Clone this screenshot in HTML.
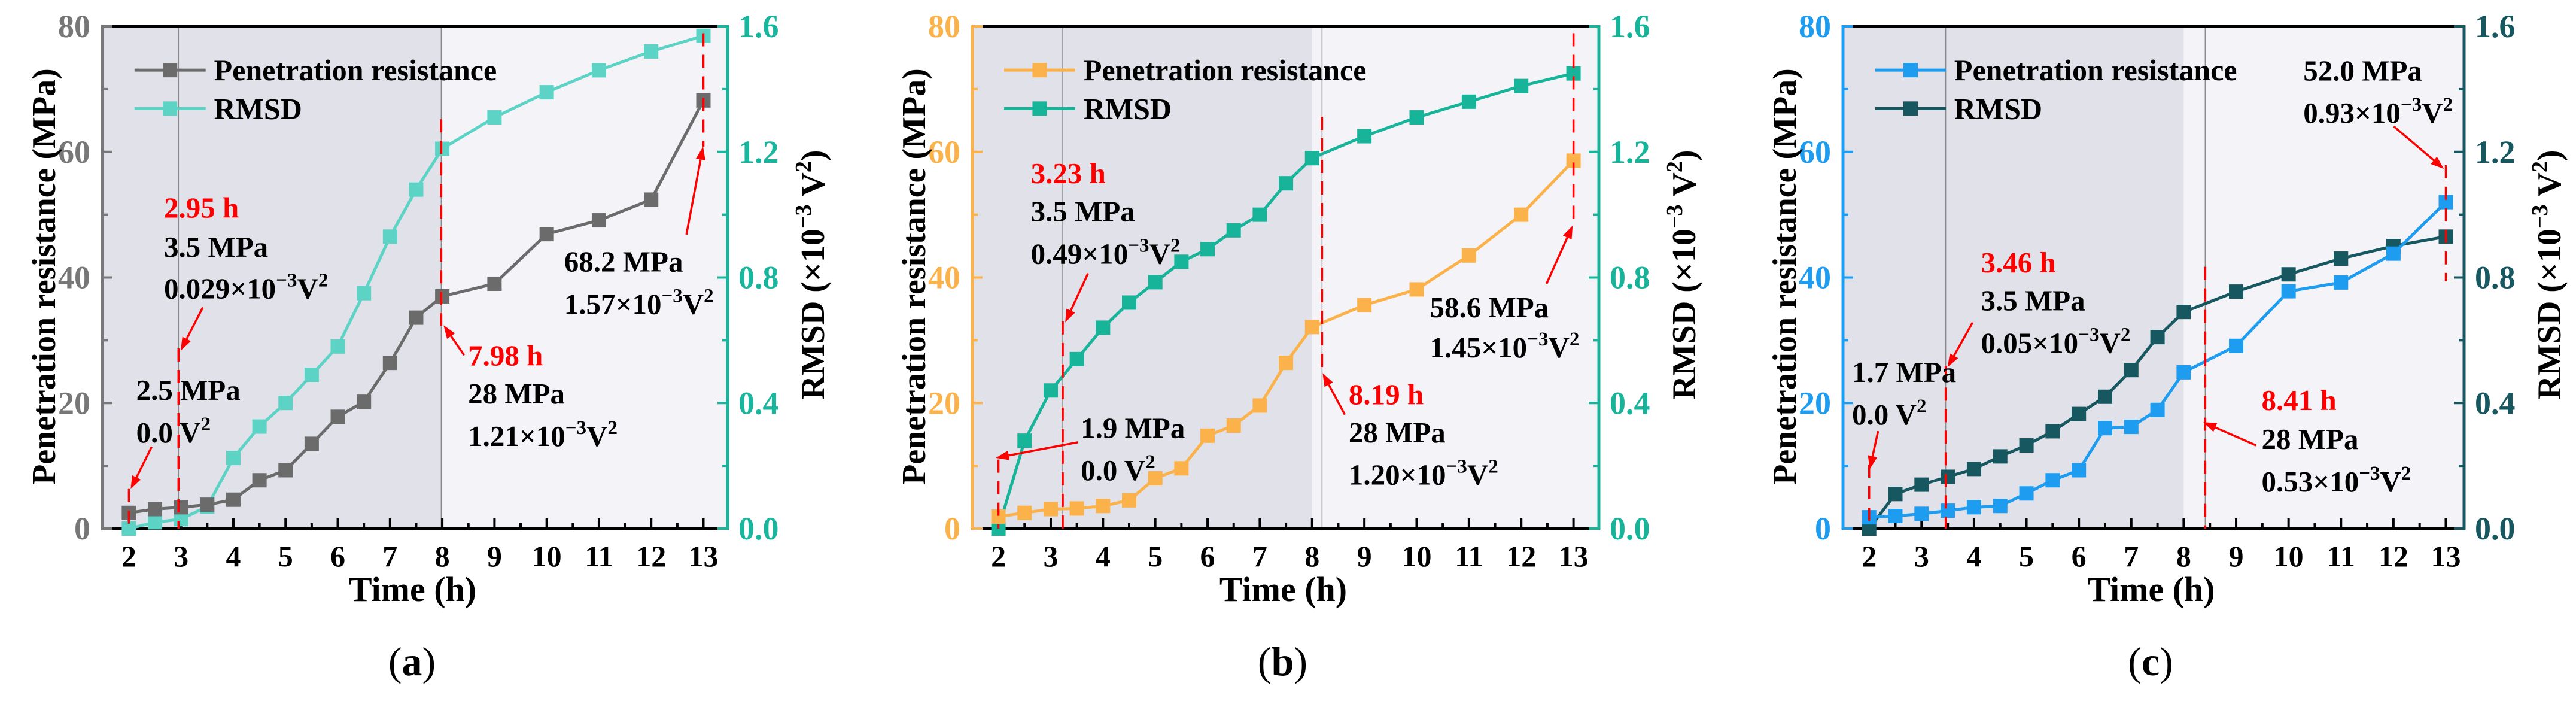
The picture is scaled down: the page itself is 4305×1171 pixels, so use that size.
<!DOCTYPE html>
<html><head><meta charset="utf-8"><style>
html,body{margin:0;padding:0;background:#fff;}
svg{display:block;font-family:"Liberation Serif","Times New Roman",serif;}
svg text{font-family:"Liberation Serif","Times New Roman",serif;}
</style></head>
<body>
<svg id="chart" width="4305" height="1171" viewBox="0 0 4305 1171" xmlns="http://www.w3.org/2000/svg" font-family="Liberation Serif, Times New Roman, serif"></svg>
<script>
const times=[2,2.5,3,3.5,4,4.5,5,5.5,6,6.5,7,7.5,8,9,10,11,12,13];
const xTicks=[2,3,4,5,6,7,8,9,10,11,12,13];
const leftTicks=[0,20,40,60,80];
const rightTickLabels=["0.0","0.4","0.8","1.2","1.6"];
const penA=[2.5,3.1,3.4,3.8,4.6,7.7,9.3,13.5,17.8,20.2,26.4,33.6,37,39,46.9,49.1,52.4,68.2];
const rmsdA=[0.0,0.02,0.03,0.07,0.225,0.325,0.40,0.49,0.58,0.75,0.93,1.08,1.21,1.31,1.39,1.46,1.52,1.57];
const penB=[1.9,2.5,3.1,3.2,3.6,4.5,8.0,9.6,14.8,16.4,19.6,26.4,32.1,35.6,38.1,43.5,50,58.6];
const rmsdB=[0.0,0.28,0.44,0.54,0.64,0.72,0.785,0.85,0.89,0.95,1.0,1.10,1.18,1.25,1.31,1.36,1.41,1.45];
const penC=[1.8,2.0,2.35,2.85,3.4,3.6,5.6,7.7,9.3,16.0,16.2,18.9,24.9,29.1,37.8,39.2,43.8,52.0];
const rmsdC=[0.0,0.11,0.14,0.165,0.19,0.23,0.265,0.31,0.365,0.42,0.505,0.61,0.69,0.755,0.81,0.86,0.90,0.93];

const NS="http://www.w3.org/2000/svg";
const svg=document.getElementById('chart');
const TOP=44, BOT=883, VX=1.0766, VY=1.34;
function el(tag,attrs,parent){const e=document.createElementNS(NS,tag);for(const k in attrs)e.setAttribute(k,attrs[k]);(parent||svg).appendChild(e);return e;}

const panels=[
 {id:'a',off:0,left:171,right:1216,x2:215.4,x13:1175.5,penColor:'#6b6b6b',axisColor:'#777777',rmsdColor:'#5dd3c6',rAxis:'#19b59c',rTick:'#19b59c',pen:penA,rmsd:rmsdA,
  grey:[2.95,7.98],dash:[[2,6.3,0],[2.95,28.7,0],[7.98,65.2,32.3],[13,78.9,60.8]],
  arrows:[[273,1000,235,1095],[365,688,325,785],[835,795,798,728],[1235,525,1265,328]],
  legX:[242,370,385],
  notes:[['2.95 h',295,487,1],['3.5 MPa',295,575],['0.029×10|−3|V|2',295,668],['2.5 MPa',245,895],['0.0 V|2',245,990],
   ['7.98 h',842,818,1],['28 MPa',842,903],['1.21×10|−3|V|2',842,998],['68.2 MPa',1015,608],['1.57×10|−3|V|2',1015,703]]},
 {id:'b',off:1430,left:1625,right:2672,x2:1668.6,x13:2629.6,penColor:'#fbb24a',axisColor:'#fbb24a',rmsdColor:'#17b49a',rAxis:'#17b49a',rTick:'#17b49a',pen:penB,rmsd:rmsdB,
  grey:[3.23,8.19],dash:[[2,11.0,0],[3.23,33.0,0],[8.19,65.6,25.1],[13,78.9,48.3]],
  arrows:[[400,990,252,1025],[418,612,377,722],[880,928,840,835],[1243,635,1290,505]],
  legX:[267,395,410],
  notes:[['3.23 h',315,410,1],['3.5 MPa',315,495],['0.49×10|−3|V|2',315,590],['1.9 MPa',405,980],['0.0 V|2',405,1075],
   ['8.19 h',887,905,1],['28 MPa',887,990],['1.20×10|−3|V|2',887,1085],['58.6 MPa',1033,710],['1.45×10|−3|V|2',1033,800]]},
 {id:'c',off:2860,left:3080,right:4118,x2:3123.7,x13:4087.5,penColor:'#1e9cf0',axisColor:'#1e9cf0',rmsdColor:'#17575f',rAxis:'#17575f',rTick:'#17575f',pen:penC,rmsd:rmsdC,
  grey:[3.46,8.41],dash:[[2,10.2,0],[3.46,25.9,0],[8.41,41.7,0],[13,57.9,39.4]],
  arrows:[[300,965,285,1050],[470,722,425,822],[980,997,885,945],[1228,283,1318,378]],
  legX:[295,422,437],
  notes:[['3.46 h',485,610,1],['3.5 MPa',485,695],['0.05×10|−3|V|2',485,790],['1.7 MPa',253,855],['0.0 V|2',253,950],
   ['8.41 h',990,918,1],['28 MPa',990,1005],['0.53×10|−3|V|2',990,1100],['52.0 MPa',1065,180],['0.93×10|−3|V|2',1065,275]]}
];

panels.forEach(p=>{
  const g=el('g',{});
  
  
  const X=t=>p.x2+(t-2)*(p.x13-p.x2)/11;
  const YL=v=>BOT-v*(BOT-TOP)/80;
  const YR=v=>BOT-v*(BOT-TOP)/1.6;
  const ZX=z=>p.off+z/VX, ZY=z=>z/VY;
  const x8=X(8);
  const bgD=el('rect',{x:p.left,y:TOP,width:x8-p.left,height:BOT-TOP,fill:'#e1e1ea'},g);
  
  const bgL=el('rect',{x:x8,y:TOP,width:p.right-x8,height:BOT-TOP,fill:'#f4f3f8'},g);
  
  p.grey.forEach(t=>{const l=el('line',{x1:X(t),x2:X(t),y1:TOP,y2:BOT,stroke:'#8a8a8a','stroke-width':1.5},g);
    });
  el('line',{x1:p.left,x2:p.right,y1:TOP,y2:TOP,stroke:'#000','stroke-width':5},g);
  el('line',{x1:p.left-2,x2:p.right+2,y1:BOT,y2:BOT,stroke:'#000','stroke-width':5},g);
  el('line',{x1:p.left,x2:p.left,y1:TOP-2,y2:BOT+2,stroke:p.axisColor,'stroke-width':5},g);
  el('line',{x1:p.right,x2:p.right,y1:TOP-2,y2:BOT+2,stroke:p.rAxis,'stroke-width':5},g);
  xTicks.forEach(t=>{
    el('line',{x1:X(t),x2:X(t),y1:BOT,y2:BOT-17,stroke:'#000','stroke-width':4},g);
    if(t<13) el('line',{x1:X(t+0.5),x2:X(t+0.5),y1:BOT,y2:BOT-9,stroke:'#000','stroke-width':4},g);
    const tx=el('text',{x:X(t),y:946,'text-anchor':'middle','font-size':50,'font-weight':'bold',fill:'#000'},g);
    tx.textContent=t;
    
  });
  leftTicks.forEach((v,i)=>{
    el('line',{x1:p.left,x2:p.left+17,y1:YL(v),y2:YL(v),stroke:p.axisColor,'stroke-width':4},g);
    if(v<80) el('line',{x1:p.left,x2:p.left+9,y1:YL(v+10),y2:YL(v+10),stroke:p.axisColor,'stroke-width':4},g);
    const tl=el('text',{x:p.left-20,y:YL(v)+18,'text-anchor':'end','font-size':54,'font-weight':'bold',fill:p.axisColor},g);
    tl.textContent=v;
    
    el('line',{x1:p.right,x2:p.right-17,y1:YL(v),y2:YL(v),stroke:p.rTick,'stroke-width':4},g);
    if(v<80) el('line',{x1:p.right,x2:p.right-9,y1:YL(v+10),y2:YL(v+10),stroke:p.rTick,'stroke-width':4},g);
    const tr=el('text',{x:p.right+18,y:YL(v)+18,'text-anchor':'start','font-size':54,'font-weight':'bold',fill:p.rTick},g);
    tr.textContent=rightTickLabels[i];
    
  });
  const xt=el('text',{x:(p.left+p.right)/2-4,y:1004,'text-anchor':'middle','font-size':58,'font-weight':'bold',fill:'#000'},g);
  xt.textContent='Time (h)';
  const ycx=p.left-99, ycy=462;
  const yt=el('text',{x:ycx,y:ycy,'text-anchor':'middle','font-size':56,'font-weight':'bold',fill:'#000',transform:`rotate(-90 ${ycx} ${ycy}) translate(0 20)`},g);
  yt.textContent='Penetration resistance (MPa)';
  const rcx=p.right+141, rcy=459;
  const rt=el('text',{x:rcx,y:rcy,'text-anchor':'middle','font-size':56,'font-weight':'bold',fill:'#000',transform:`rotate(-90 ${rcx} ${rcy}) translate(0 20)`},g);
  
  rt.innerHTML='RMSD (×10<tspan dy="-22" font-size="38">−3</tspan><tspan dy="22"> V</tspan><tspan dy="-22" font-size="38">2</tspan><tspan dy="22">)</tspan>';
  const cap=el('text',{x:(p.left+p.right)/2-5,y:1128,'text-anchor':'middle','font-size':68,fill:'#000'},g);
  cap.innerHTML='(<tspan font-weight="bold">'+p.id+'</tspan>)';
  
  function series(vals,Y,color,name){
    const pts=vals.map((v,i)=>X(times[i])+','+Y(v)).join(' ');
    const pl=el('polyline',{points:pts,fill:'none',stroke:color,'stroke-width':5},g);
    
    vals.forEach((v,i)=>{const r=el('rect',{x:X(times[i])-12,y:Y(v)-12,width:24,height:24,fill:color},g);
      });
  }
  series(p.rmsd,YR,p.rmsdColor,'rmsd');
  series(p.pen,YL,p.penColor,'penetration');
  p.dash.forEach(d=>{const l=el('line',{x1:X(d[0]),x2:X(d[0]),y1:YL(d[1]),y2:YL(d[2]),stroke:'#ff0000','stroke-width':3.5,'stroke-dasharray':'22 14'},g);
    });
  p.arrows.forEach(a=>{
    const x1=ZX(a[0]),y1=ZY(a[1]),x2=ZX(a[2]),y2=ZY(a[3]);
    const ang=Math.atan2(y2-y1,x2-x1),L=22,W=8;
    const bx=x2-L*Math.cos(ang),by=y2-L*Math.sin(ang);
    const ag=el('g',{},g);
    el('line',{x1:x1,y1:y1,x2:bx,y2:by,stroke:'#ff0000','stroke-width':3.5},ag);
    el('polygon',{points:`${x2},${y2} ${bx-W*Math.sin(ang)},${by+W*Math.cos(ang)} ${bx+W*Math.sin(ang)},${by-W*Math.cos(ang)}`,fill:'#ff0000'},ag);
  });
  p.notes.forEach(n=>{
    const t=el('text',{x:ZX(n[1]),y:ZY(n[2]),'font-size':49,'font-weight':'bold',fill:n[3]?'#ff0000':'#000'},g);
    
    const parts=n[0].split('|');
    if(parts.length===1){t.textContent=n[0];}
    else{let h='';parts.forEach((s,i)=>{if(i%2===1)h+=`<tspan dy="-20" font-size="33">${s}</tspan>`;else h+=(i>0?`<tspan dy="20">${s}</tspan>`:s);});t.innerHTML=h;}
  });
  const lg=el('g',{},g);
  [[p.penColor,'Penetration resistance',157],[p.rmsdColor,'RMSD',243]].forEach(e=>{
    const y=ZY(e[2]);
    const eg=el('g',{},lg);
    el('line',{x1:ZX(p.legX[0]),x2:ZX(p.legX[1]),y1:y,y2:y,stroke:e[0],'stroke-width':5},eg);
    const mx=(ZX(p.legX[0])+ZX(p.legX[1]))/2;
    el('rect',{x:mx-12,y:y-12,width:24,height:24,fill:e[0]},eg);
    const tt=el('text',{x:ZX(p.legX[2]),y:y+17,'font-size':50,'font-weight':'bold',fill:'#000'},eg);tt.textContent=e[1];
  });
});
</script>
</body></html>
